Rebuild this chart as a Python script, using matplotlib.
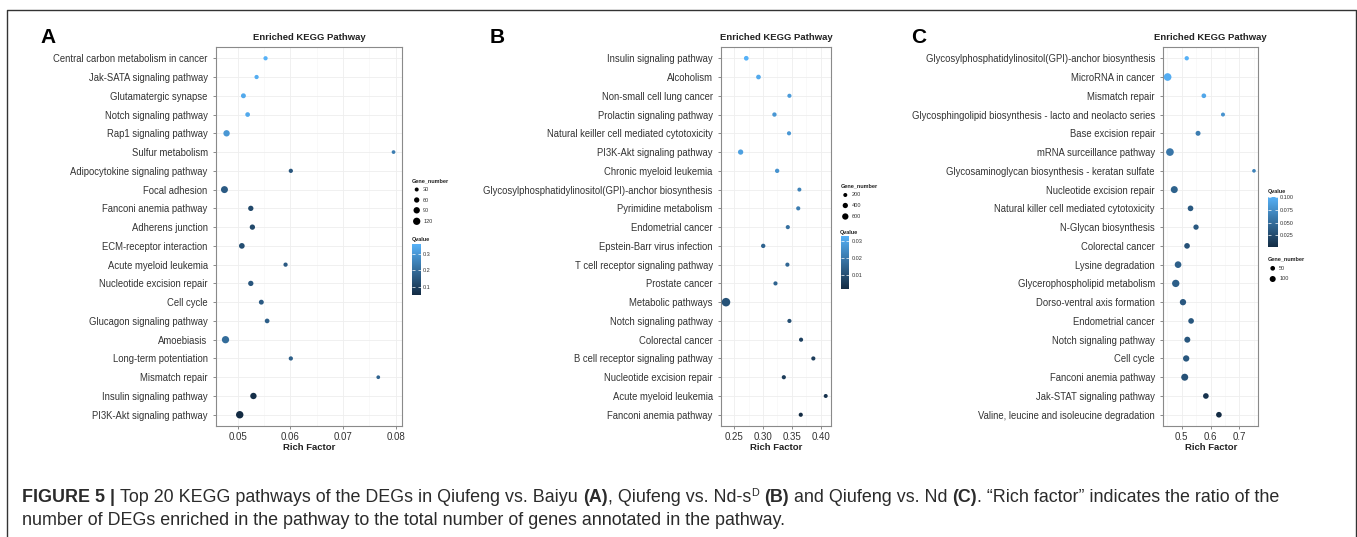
import matplotlib
matplotlib.use("Agg")
import matplotlib.pyplot as plt
import numpy as np
from matplotlib.cm import ScalarMappable
from matplotlib.colors import LinearSegmentedColormap, Normalize
from matplotlib.ticker import FormatStrFormatter, MultipleLocator

plt.rcParams["font.family"] = ["Liberation Sans", "DejaVu Sans"]

W, H = 1357, 537
CMAP = LinearSegmentedColormap.from_list("gg", ["#132B43", "#56B1F7"])
TXT = "#333333"

# ---- panel A: Qiufeng vs. Baiyu
A_PATHWAYS = ["Central carbon metabolism in cancer", "Jak-SATA signaling pathway",
              "Glutamatergic synapse", "Notch signaling pathway", "Rap1 signaling pathway",
              "Sulfur metabolism", "Adipocytokine signaling pathway", "Focal adhesion",
              "Fanconi anemia pathway", "Adherens junction", "ECM-receptor interaction",
              "Acute myeloid leukemia", "Nucleotide excision repair", "Cell cycle",
              "Glucagon signaling pathway", "Amoebiasis", "Long-term potentiation",
              "Mismatch repair", "Insulin signaling pathway", "PI3K-Akt signaling pathway"]
A_RICH = [0.0553, 0.0536, 0.0511, 0.0519, 0.0479, 0.0796, 0.0601, 0.0475, 0.0525, 0.0528,
          0.0508, 0.0591, 0.0525, 0.0545, 0.0556, 0.0477, 0.0601, 0.0767, 0.0530, 0.0504]
A_GENES = [35, 35, 50, 45, 90, 25, 35, 110, 60, 60, 70, 35, 60, 50, 45, 120, 35, 25, 90, 125]
A_QVALUE = [0.36, 0.35, 0.34, 0.34, 0.30, 0.24, 0.15, 0.16, 0.12, 0.12,
            0.13, 0.16, 0.15, 0.16, 0.17, 0.20, 0.17, 0.18, 0.06, 0.05]
A_SIZE_BREAKS = [30, 60, 90, 120]
A_Q_BREAKS = [0.1, 0.2, 0.3]

# ---- panel B: Qiufeng vs. Nd-sD
B_PATHWAYS = ["Insulin signaling pathway", "Alcoholism", "Non-small cell lung cancer",
              "Prolactin signaling pathway", "Natural keiller cell mediated cytotoxicity",
              "PI3K-Akt signaling pathway", "Chronic myeloid leukemia",
              "Glycosylphosphatidylinositol(GPI)-anchor biosynthesis", "Pyrimidine metabolism",
              "Endometrial cancer", "Epstein-Barr virus infection",
              "T cell receptor signaling pathway", "Prostate cancer", "Metabolic pathways",
              "Notch signaling pathway", "Colorectal cancer",
              "B cell receptor signaling pathway", "Nucleotide excision repair",
              "Acute myeloid leukemia", "Fanconi anemia pathway"]
B_RICH = [0.2708, 0.2920, 0.3457, 0.3197, 0.3450, 0.2610, 0.3244, 0.3630, 0.3610, 0.3429,
          0.3002, 0.3422, 0.3215, 0.2356, 0.3457, 0.3659, 0.3872, 0.3360, 0.4087, 0.3654]
B_GENES = [300, 300, 220, 250, 220, 400, 250, 200, 220, 220,
           250, 220, 220, 1150, 220, 220, 220, 220, 200, 220]
B_QVALUE = [0.033, 0.031, 0.028, 0.027, 0.027, 0.029, 0.026, 0.022, 0.021, 0.018,
            0.015, 0.016, 0.015, 0.011, 0.010, 0.007, 0.006, 0.006, 0.004, 0.002]
B_SIZE_BREAKS = [200, 400, 600]
B_Q_BREAKS = [0.01, 0.02, 0.03]

# ---- panel C: Qiufeng vs. Nd
C_PATHWAYS = ["Glycosylphosphatidylinositol(GPI)-anchor biosynthesis", "MicroRNA in cancer",
              "Mismatch repair", "Glycosphingolipid biosynthesis - lacto and neolacto series",
              "Base excision repair", "mRNA surceillance pathway",
              "Glycosaminoglycan biosynthesis - keratan sulfate", "Nucleotide excision repair",
              "Natural killer cell mediated cytotoxicity", "N-Glycan biosynthesis",
              "Colorectal cancer", "Lysine degradation", "Glycerophospholipid metabolism",
              "Dorso-ventral axis formation", "Endometrial cancer", "Notch signaling pathway",
              "Cell cycle", "Fanconi anemia pathway", "Jak-STAT signaling pathway",
              "Valine, leucine and isoleucine degradation"]
C_RICH = [0.518, 0.452, 0.577, 0.643, 0.557, 0.460, 0.750, 0.475, 0.531, 0.550,
          0.519, 0.488, 0.480, 0.505, 0.533, 0.520, 0.516, 0.511, 0.584, 0.629]
C_GENES = [39, 180, 50, 30, 61, 180, 20, 146, 86, 73, 86, 130, 163, 114, 86, 100, 114, 146, 86, 86]
C_QVALUE = [0.100, 0.097, 0.092, 0.078, 0.062, 0.057, 0.066, 0.042, 0.036, 0.036,
            0.030, 0.040, 0.040, 0.035, 0.034, 0.034, 0.034, 0.030, 0.008, 0.002]
C_SIZE_BREAKS = [50, 100]
C_Q_BREAKS = [0.025, 0.05, 0.075, 0.1]


def fx(px):
    return px / W


def fy(py):
    return 1 - py / H


def sizes(values, a, b):
    # dot diameter in px: sqrt(a + b*v), converted to scatter area in pt^2
    d = np.sqrt(a + b * np.asarray(values, float))
    return (d * 0.72) ** 2


def panel(fig, box, names, rich, genes, qval, step, fmt, size_ab):
    l, t, r, b = box
    ax = fig.add_axes([fx(l), fy(b), (r - l) / W, (b - t) / H])
    n = len(names)
    y = np.arange(n)[::-1]
    ax.scatter(rich, y, s=sizes(genes, *size_ab), c=qval, cmap=CMAP,
               norm=Normalize(min(qval), max(qval)), linewidths=0, zorder=3)
    ax.margins(x=0.05)
    ax.set_ylim(-0.6, n - 0.4)
    ax.set_yticks(y)
    ax.set_yticklabels(names)
    ax.xaxis.set_major_locator(MultipleLocator(step))
    ax.xaxis.set_minor_locator(MultipleLocator(step / 2))
    ax.xaxis.set_major_formatter(FormatStrFormatter(fmt))
    ax.grid(which="major", color="#eeeeee", lw=0.6)
    ax.grid(which="minor", axis="x", color="#f6f6f6", lw=0.4)
    ax.set_axisbelow(True)
    ax.tick_params(which="minor", length=0)
    ax.tick_params(axis="both", length=2, width=0.6, color="#777777", labelcolor=TXT)
    ax.tick_params(axis="y", labelsize=6.85, pad=4)
    ax.tick_params(axis="x", labelsize=7, pad=2)
    for s in ax.spines.values():
        s.set_color("#8a8a8a")
        s.set_linewidth(0.8)
    cx = (l + r) / 2
    fig.text(fx(cx), fy(38), "Enriched KEGG Pathway", ha="center", va="center",
             fontsize=6.8, fontweight="bold", color="#222222")
    fig.text(fx(cx), fy(447), "Rich Factor", ha="center", va="center",
             fontsize=6.8, fontweight="bold", color="#222222")
    return ax


def colorbar(fig, box, qval, ticks, fmt, title_xy):
    l, t, r, b = box
    cax = fig.add_axes([fx(l), fy(b), (r - l) / W, (b - t) / H])
    cb = fig.colorbar(ScalarMappable(Normalize(min(qval), max(qval)), CMAP), cax=cax)
    cb.outline.set_visible(False)
    cb.set_ticks(ticks, labels=[fmt % v for v in ticks])
    cax.tick_params(direction="in", length=2, width=0.5, color="white", left=True,
                    right=True, labelsize=4, labelcolor=TXT, pad=1.5)
    fig.text(fx(title_xy[0]), fy(title_xy[1]), "Qvalue", ha="left", va="center",
             fontsize=4, fontweight="bold", color="#222222")


def size_legend(over, breaks, size_ab, x, ys, title_xy):
    over.scatter([x] * len(breaks), ys, s=sizes(breaks, *size_ab), c="black", linewidths=0)
    for v, yy in zip(breaks, ys):
        over.text(x + 6.5, yy, str(v), ha="left", va="center", fontsize=4, color=TXT)
    over.text(title_xy[0], title_xy[1], "Gene_number", ha="left", va="center",
              fontsize=4, fontweight="bold", color="#222222")


def put_runs(fig, x0, y0, runs, size):
    renderer = fig.canvas.get_renderer()
    probe1 = fig.text(0, 0, "a a", fontsize=size)
    probe2 = fig.text(0, 0, "aa", fontsize=size)
    sp = probe1.get_window_extent(renderer).width - probe2.get_window_extent(renderer).width
    probe1.remove()
    probe2.remove()
    x = x0
    for text, weight, rel, dy in runs:
        lead = len(text) - len(text.lstrip(" "))
        trail = len(text) - len(text.rstrip(" "))
        x += lead * sp
        core = text.strip(" ")
        t = fig.text(fx(x), fy(y0 - dy), core, fontsize=size * rel, fontweight=weight,
                     ha="left", va="baseline", color="#2b2b2b")
        x += t.get_window_extent(renderer).width + trail * sp


def main():
    fig = plt.figure(figsize=(W / 100, H / 100), dpi=100)
    over = fig.add_axes([0, 0, 1, 1])
    over.set_xlim(0, W)
    over.set_ylim(H, 0)
    over.axis("off")
    over.plot([7, 7, 1355.5, 1355.5], [H, 10, 10, H], color="#333333", lw=1.0)

    panel(fig, (216, 47, 402, 426), A_PATHWAYS, A_RICH, A_GENES, A_QVALUE, 0.01, "%.2f",
          (3.7, 0.41))
    panel(fig, (721, 47, 830.7, 426), B_PATHWAYS, B_RICH, B_GENES, B_QVALUE, 0.05, "%.2f",
          (4.0, 0.06))
    panel(fig, (1163.3, 47, 1258.3, 426), C_PATHWAYS, C_RICH, C_GENES, C_QVALUE, 0.1, "%.1f",
          (7.6, 0.284))

    # legends
    size_legend(over, A_SIZE_BREAKS, (3.7, 0.41), 416.7, [189.5, 200, 210.3, 221.3], (412, 181))
    colorbar(fig, (412, 244.3, 421, 295), A_QVALUE, A_Q_BREAKS, "%.1f", (411.5, 239.5))
    size_legend(over, B_SIZE_BREAKS, (4.0, 0.06), 845.3, [195, 205.5, 216.5], (840.5, 185.5))
    colorbar(fig, (840.5, 235.7, 849.5, 289), B_QVALUE, B_Q_BREAKS, "%.2f", (840, 232.5))
    colorbar(fig, (1267.7, 196.7, 1277.5, 247.3), C_QVALUE, C_Q_BREAKS, "%.3f", (1268, 191.5))
    size_legend(over, C_SIZE_BREAKS, (7.6, 0.284), 1272.7, [268.3, 279], (1268, 259.3))

    # panel letters
    for letter, x in (("A", 40), ("B", 490), ("C", 911)):
        fig.text(fx(x), fy(43), letter, ha="left", va="baseline", fontsize=15,
                 fontweight="bold", color="black")

    line1 = [("FIGURE 5 | ", "bold", 1, 0),
             ("Top 20 KEGG pathways of the DEGs in Qiufeng vs. Baiyu ", "normal", 1, 0),
             ("(A)", "bold", 1, 0),
             (", Qiufeng vs. Nd-s", "normal", 1, 0),
             ("D ", "normal", 0.6, 6.5),
             ("(B)", "bold", 1, 0),
             (" and Qiufeng vs. Nd ", "normal", 1, 0),
             ("(C)", "bold", 1, 0),
             (". \u201cRich factor\u201d indicates the ratio of the", "normal", 1, 0)]
    line2 = [("number of DEGs enriched in the pathway to the total number of genes "
              "annotated in the pathway.", "normal", 1, 0)]
    put_runs(fig, 22.5, 502.5, line1, 12.9)
    put_runs(fig, 22.5, 525, line2, 12.9)

    fig.savefig("out.png", dpi=100)
    plt.close(fig)


if __name__ == "__main__":
    main()
